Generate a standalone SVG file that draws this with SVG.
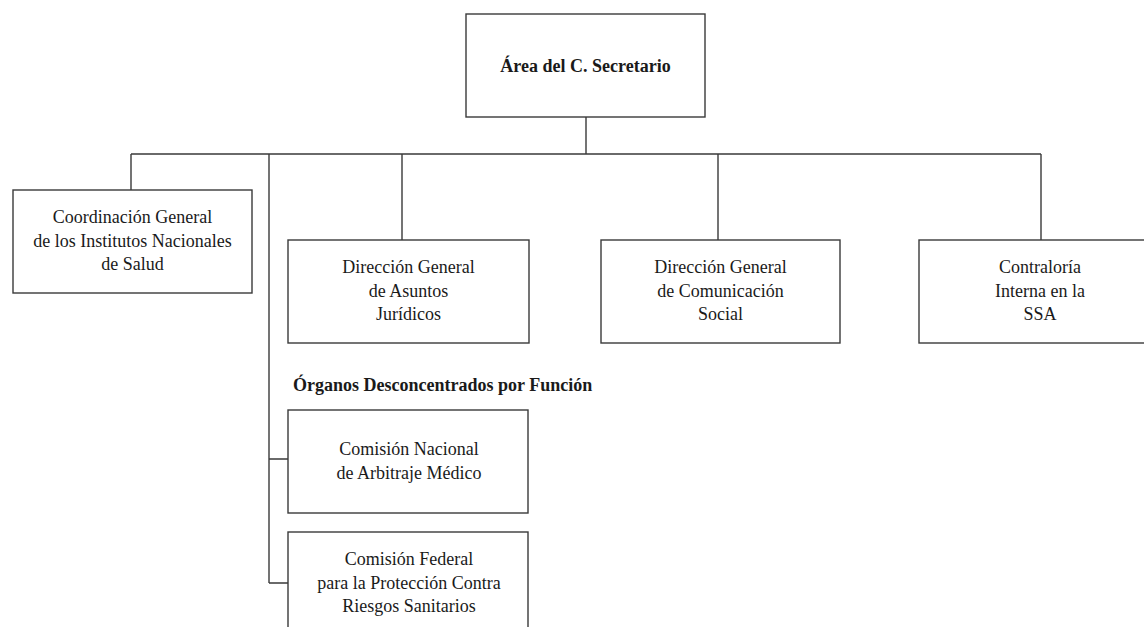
<svg xmlns="http://www.w3.org/2000/svg" width="1144" height="627" viewBox="0 0 1144 627">
<style>
.box{fill:#fff;stroke:#3a3a3a;stroke-width:1.4}
.ln{fill:none;stroke:#3a3a3a;stroke-width:1.4}
.t{font-family:"Liberation Serif","Times New Roman",serif;font-size:18px;fill:#1a1a1a;text-anchor:middle}
.b{font-weight:bold}
</style>
<rect width="1144" height="627" fill="#fff"/>
<g id="connectors">
<path class="ln" d="M586 117V154M131 154H1041M131 154V190M402 154V240M718 154V240M1041 154V240M269 154V583M269 459H288M269 583H288"/>
</g>
<g id="secretario">
<rect class="box" x="466" y="14" width="239" height="103"/>
<text class="t b" x="585.5" y="72">Área del C. Secretario</text>
</g>
<g id="coordinacion">
<rect class="box" x="13" y="190" width="239" height="103"/>
<text class="t" x="132.5" y="223">Coordinación General</text>
<text class="t" x="132.5" y="246.5">de los Institutos Nacionales</text>
<text class="t" x="132.5" y="270">de Salud</text>
</g>
<g id="juridicos">
<rect class="box" x="288" y="240" width="241" height="103"/>
<text class="t" x="408.5" y="273">Dirección General</text>
<text class="t" x="408.5" y="296.5">de Asuntos</text>
<text class="t" x="408.5" y="320">Jurídicos</text>
</g>
<g id="comunicacion">
<rect class="box" x="601" y="240" width="239" height="103"/>
<text class="t" x="720.5" y="273">Dirección General</text>
<text class="t" x="720.5" y="296.5">de Comunicación</text>
<text class="t" x="720.5" y="320">Social</text>
</g>
<g id="contraloria">
<rect class="box" x="919" y="240" width="242" height="103"/>
<text class="t" x="1040" y="273">Contraloría</text>
<text class="t" x="1040" y="296.5">Interna en la</text>
<text class="t" x="1040" y="320">SSA</text>
</g>
<g id="heading">
<text class="t b" x="293" y="391" style="text-anchor:start">Órganos Desconcentrados por Función</text>
</g>
<g id="conamed">
<rect class="box" x="288" y="410" width="240" height="103"/>
<text class="t" x="409" y="455">Comisión Nacional</text>
<text class="t" x="409" y="479">de Arbitraje Médico</text>
</g>
<g id="cofepris">
<rect class="box" x="288" y="532" width="240" height="110"/>
<text class="t" x="409" y="565">Comisión Federal</text>
<text class="t" x="409" y="588.5">para la Protección Contra</text>
<text class="t" x="409" y="612">Riesgos Sanitarios</text>
</g>
</svg>
